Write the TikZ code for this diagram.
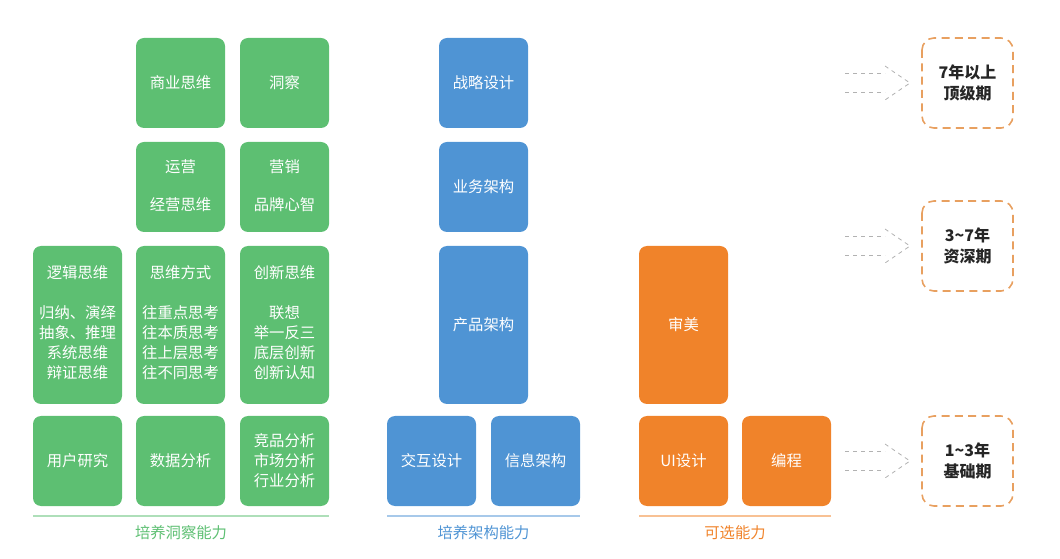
\documentclass[tikz,border=0pt]{standalone}
\usepackage{fontspec}
\setmainfont{Noto Sans CJK SC}
\begin{document}
\begin{tikzpicture}[x=0.75pt,y=-0.75pt,
 box/.style={rounded corners=6pt,draw=none},
 g/.style={box,fill=gC}, b/.style={box,fill=bC}, o/.style={box,fill=oC},
 t/.style={text=white,font=\fontsize{11.5}{15}\selectfont,align=center},
 dashbox/.style={draw=dC,line width=1.2pt,rounded corners=9pt,dash pattern=on 6pt off 4pt},
 arr/.style={draw=gray!60,dashed,line width=0.6pt},
 lbl/.style={font=\fontsize{11.5}{14}\selectfont}]
\definecolor{gC}{HTML}{5DBF72}\definecolor{bC}{HTML}{4F94D4}\definecolor{oC}{HTML}{F0832A}\definecolor{dC}{HTML}{E8A060}
\useasboundingbox (0,0) rectangle (1060,559);
\newcommand{\bx}[5]{\fill[#1] (#2,#3) rectangle (#4,#5); }
% green
\bx{g}{136}{38}{225}{128}\node[t] (a1) at (180.5,83) {商业思维};
\bx{g}{240}{38}{329}{128}\node[t] (a2) at (284.5,83) {洞察};
\bx{g}{136}{142}{225}{232}\node[t] (b1) at (180.5,167) {运营};\node[t] (b1b) at (180.5,205) {经营思维};
\bx{g}{240}{142}{329}{232}\node[t] (b2) at (284.5,167) {营销};\node[t] (b2b) at (284.5,205) {品牌心智};
\bx{g}{33}{246}{122}{404}\node[t] (c1) at (77.5,273) {逻辑思维};\node[t] (c1b) at (77.5,343) {归纳、演绎\\抽象、推理\\系统思维\\辩证思维};
\bx{g}{136}{246}{225}{404}\node[t] (c2) at (180.5,273) {思维方式};\node[t] (c2b) at (180.5,343) {往重点思考\\往本质思考\\往上层思考\\往不同思考};
\bx{g}{240}{246}{329}{404}\node[t] (c3) at (284.5,273) {创新思维};\node[t] (c3b) at (284.5,343) {联想\\举一反三\\底层创新\\创新认知};
\bx{g}{33}{416}{122}{506}\node[t] (d1) at (77.5,461) {用户研究};
\bx{g}{136}{416}{225}{506}\node[t] (d2) at (180.5,461) {数据分析};
\bx{g}{240}{416}{329}{506}\node[t] (d3) at (284.5,461) {竞品分析\\市场分析\\行业分析};
% blue
\bx{b}{439}{38}{528}{128}\node[t] (e1) at (483.5,83) {战略设计};
\bx{b}{439}{142}{528}{232}\node[t] (e2) at (483.5,187) {业务架构};
\bx{b}{439}{246}{528}{404}\node[t] (e3) at (483.5,325) {产品架构};
\bx{b}{387}{416}{476}{506}\node[t] (e4) at (431.5,461) {交互设计};
\bx{b}{491}{416}{580}{506}\node[t] (e5) at (535.5,461) {信息架构};
% orange
\bx{o}{639}{246}{728}{404}\node[t] (f1) at (683.5,325) {审美};
\bx{o}{639}{416}{728}{506}\node[t] (f2) at (683.5,461) {UI设计};
\bx{o}{742}{416}{831}{506}\node[t] (f3) at (786.5,461) {编程};
% lines and labels
\draw[gC!50,line width=1pt] (33,516) -- (329,516);
\draw[bC!50,line width=1pt] (387,516) -- (580,516);
\draw[oC!50,line width=1pt] (639,516) -- (831,516);
\node[lbl,text=gC] (l1) at (181,533) {培养洞察能力};
\node[lbl,text=bC] (l2) at (483.5,533) {培养架构能力};
\node[lbl,text=oC] (l3) at (735,533) {可选能力};
% stages
\foreach \y/\txt/\n in {83/{7年以上\\顶级期}/s1, 246/{3\textasciitilde 7年\\资深期}/s2, 461/{1\textasciitilde 3年\\基础期}/s3}{
 \draw[dashbox] (922,\y-45) rectangle (1013,\y+45);
 \node[font=\bfseries\fontsize{12}{16}\selectfont,align=center,text=black!85] (\n) at (967.5,\y) {\txt};
 \draw[arr] (845,\y-10) -- (885,\y-10);
 \draw[arr] (845,\y+9) -- (885,\y+9);
 \draw[arr] (885,\y-17) -- (910,\y) -- (885,\y+17);
}
\end{tikzpicture}
\end{document}
